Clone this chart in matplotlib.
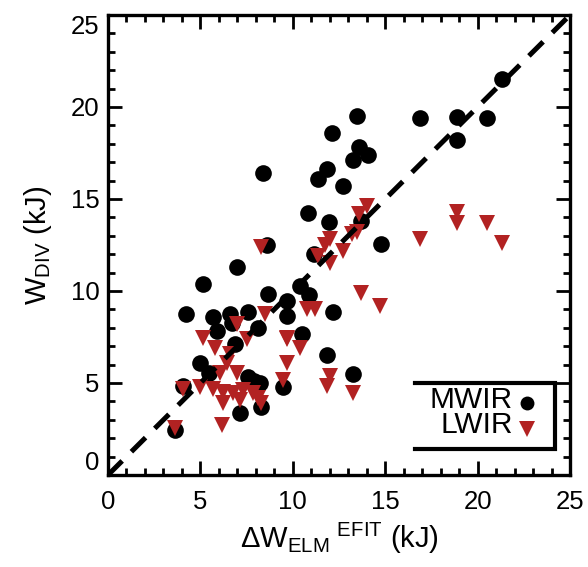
import matplotlib
matplotlib.use("Agg")
import matplotlib.pyplot as plt

plt.rcParams['font.family'] = ['Liberation Sans', 'DejaVu Sans']
plt.rcParams['mathtext.fontset'] = 'custom'
plt.rcParams['mathtext.rm'] = 'Liberation Sans'
plt.rcParams['mathtext.it'] = 'Liberation Sans:italic'
plt.rcParams['mathtext.bf'] = 'Liberation Sans:bold'

# MWIR data (black circles)
mwir_x = [21.3, 13.46, 16.86, 18.86, 20.5, 18.86, 12.1, 13.57, 14.05, 13.24,
          11.84, 11.35, 12.7, 8.38, 10.81, 11.95, 13.68, 14.76, 8.59, 11.14,
          6.97, 5.14, 8.65, 10.38, 10.86, 9.68, 4.22, 5.68, 6.6, 7.57,
          9.68, 12.16, 6.7, 5.9, 8.1, 10.49, 6.86, 4.97, 11.84, 13.24,
          4.05, 7.57, 8.2, 9.46, 7.14, 8.3, 3.62, 5.45, 7.9]
mwir_y = [21.5, 19.5, 19.4, 19.46, 19.4, 18.2, 18.6, 17.84, 17.41, 17.14,
          16.65, 16.11, 15.73, 16.43, 14.22, 13.73, 13.78, 12.54, 12.49, 12.0,
          11.3, 10.38, 9.84, 10.27, 9.78, 9.46, 8.76, 8.6, 8.76, 8.86,
          8.65, 8.86, 8.27, 7.84, 8.0, 7.68, 7.1, 6.1, 6.5, 5.5,
          4.86, 5.3, 5.0, 4.76, 3.35, 3.68, 2.43, 5.55, 5.1]

# LWIR data (red triangles)
lwir_x = [16.86, 18.86, 18.86, 20.5, 21.3, 14.0, 13.6, 8.3, 12.0, 11.75,
          13.2, 13.5, 12.7, 11.35, 12.0, 13.68, 14.7, 8.5, 10.76, 11.2,
          6.97, 5.14, 9.68, 5.8, 7.5, 6.6, 10.38, 9.68, 6.43, 6.97,
          6.05, 12.0, 9.46, 4.97, 4.05, 5.68, 6.2, 6.75, 7.3, 7.84,
          8.3, 6.2, 7.14, 13.24, 6.16, 3.62, 8.1, 11.84, 9.68]
lwir_y = [12.8, 14.3, 13.7, 13.7, 12.6, 14.6, 14.2, 12.4, 12.8, 12.5,
          13.1, 13.2, 12.2, 11.9, 11.5, 9.9, 9.2, 8.76, 9.0, 9.0,
          8.2, 7.46, 7.4, 6.9, 7.4, 6.6, 6.9, 6.1, 6.1, 5.57,
          5.57, 5.4, 5.14, 4.76, 4.7, 4.7, 4.5, 4.45, 4.6, 4.43,
          3.9, 3.9, 4.05, 4.43, 2.7, 2.54, 4.2, 4.86, 7.46]

one_to_one = [0, 25]
x_ticks = [0, 5, 10, 15, 20, 25]
y_ticks = [0, 5, 10, 15, 20, 25]
legend_labels = ['MWIR', 'LWIR']
red = '#B22222'

fig = plt.figure(figsize=(5.88, 5.67), dpi=100)
ax = fig.add_axes([108/588, 1-475/567, 462/588, 460/567])

ax.plot(mwir_x, mwir_y, 'o', color='black', markersize=12, markeredgewidth=0, zorder=3)
ax.plot(lwir_x, lwir_y, 'v', color=red, markersize=12, markeredgewidth=0, zorder=4)
ax.plot(one_to_one, one_to_one, color='black', lw=3.6, dashes=(4, 2.6), zorder=5,
        solid_capstyle='butt', dash_capstyle='butt')

ax.set_xlim(0, 25)
ax.set_ylim(0, 25)
ax.set_xticks(x_ticks)
ax.set_yticks(y_ticks)
ax.set_xticks(range(0, 26), minor=True)
ax.set_yticks(range(0, 26), minor=True)
ax.tick_params(which='both', direction='in', top=True, right=True, width=2, colors='black')
ax.tick_params(which='major', length=10, labelsize=18.5)
ax.tick_params(axis='x', which='major', pad=11)
ax.tick_params(axis='y', which='major', pad=6)
ax.tick_params(which='minor', length=5)
for s in ax.spines.values():
    s.set_linewidth(2.4)

ylabels = ax.get_yticklabels()
ylabels[0].set_va('bottom')
ylabels[-1].set_va('top')

ax.set_xlabel(r'$\Delta$W$_{\rm ELM}$$\;^{\rm EFIT}$ (kJ)', fontsize=21, labelpad=5)
ax.set_ylabel(r'W$_{\rm DIV}$ (kJ)', fontsize=21, labelpad=12)

# legend box (top, right, bottom lines)
t = ax.transAxes
ax.plot([0.664, 0.967, 0.967, 0.664], [0.200, 0.200, 0.0565, 0.0565], color='black',
        lw=3, transform=t, clip_on=False, solid_joinstyle='miter', zorder=6)
ax.text(0.876, 0.136, '\n'.join(legend_labels), transform=t, ha='right', va='center',
        multialignment='right', fontsize=21.5, linespacing=0.88, zorder=6)
ax.plot([0.907], [0.157], 'o', color='black', markersize=10, markeredgewidth=0, transform=t, zorder=6)
ax.plot([0.907], [0.100], 'v', color=red, markersize=11, markeredgewidth=0, transform=t, zorder=6)

fig.savefig('out.png', dpi=100)
